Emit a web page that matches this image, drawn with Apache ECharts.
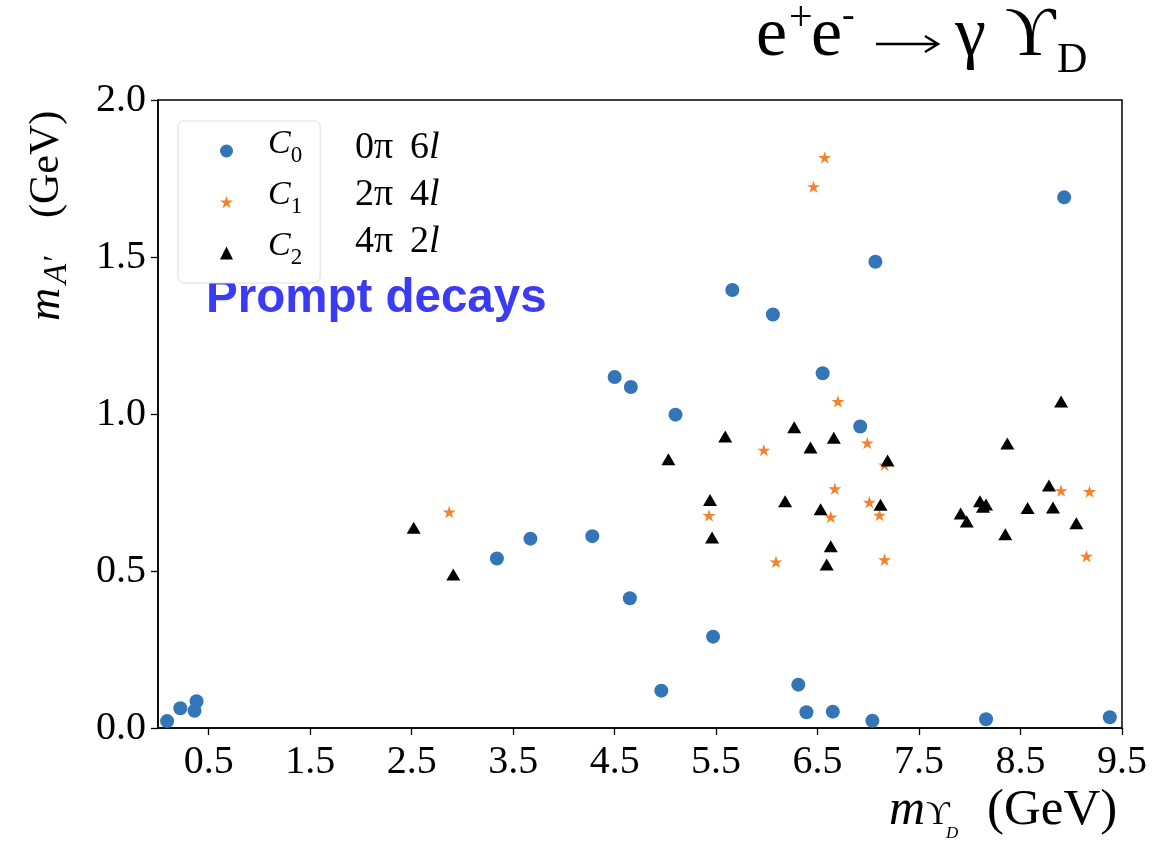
<!DOCTYPE html>
<html>
<head>
<meta charset="utf-8">
<script src="https://cdn.jsdelivr.net/npm/echarts@6/dist/echarts.min.js"></script>
<style>
  html, body { margin: 0; padding: 0; background: #fff; }
  #chart { width: 1163px; height: 841px; }
</style>
</head>
<body>
<div id="chart"></div>
<script>
// [m_Upsilon_D, m_A'] in GeV
var c0Points = [
  [0.09, 0.022], [0.22, 0.063], [0.36, 0.055], [0.38, 0.085],
  [3.34, 0.540], [3.67, 0.603], [4.28, 0.611], [4.65, 0.413],
  [4.96, 0.119], [5.47, 0.291], [5.66, 1.395], [6.06, 1.317],
  [4.50, 1.118], [4.66, 1.086], [5.10, 0.998], [8.93, 1.690],
  [7.07, 1.485], [6.55, 1.130], [6.92, 0.960], [6.31, 0.138],
  [6.39, 0.050], [6.65, 0.052], [7.04, 0.023], [8.16, 0.028],
  [9.38, 0.034]
];
var c1Points = [
  [2.87, 0.688], [5.43, 0.677], [5.97, 0.885], [6.09, 0.529],
  [6.46, 1.724], [6.57, 1.817], [6.63, 0.672], [6.67, 0.762],
  [6.70, 1.040], [6.99, 0.908], [7.01, 0.719], [7.11, 0.678],
  [7.16, 0.838], [7.16, 0.536], [8.90, 0.756], [9.15, 0.547],
  [9.18, 0.753]
];
var c2Points = [
  [2.52, 0.638], [2.91, 0.489], [5.03, 0.856], [5.44, 0.726],
  [5.46, 0.607], [5.59, 0.928], [6.18, 0.722], [6.27, 0.958],
  [6.43, 0.893], [6.53, 0.697], [6.59, 0.521], [6.63, 0.579],
  [6.66, 0.924], [7.12, 0.711], [7.19, 0.852], [7.91, 0.683],
  [7.97, 0.658], [8.10, 0.722], [8.13, 0.705], [8.16, 0.712],
  [8.35, 0.617], [8.37, 0.906], [8.57, 0.701], [8.78, 0.772],
  [8.82, 0.702], [8.90, 1.040], [9.05, 0.652]
];
var seriesNames = ['C0', 'C1', 'C2'];
var xTicks = [0.5, 1.5, 2.5, 3.5, 4.5, 5.5, 6.5, 7.5, 8.5, 9.5];
var decayLabels = [['0π', '6'], ['2π', '4'], ['4π', '2']];

var serif = 'Liberation Serif, DejaVu Serif, serif';
var blue = '#3375b6';
var orange = '#f5822b';

// five pointed star like matplotlib '*'
function starPath() {
  var pts = [];
  for (var k = 0; k < 10; k++) {
    var a = (-90 + 36 * k) * Math.PI / 180;
    var r = k % 2 === 0 ? 50 : 19;
    pts.push((50 + r * Math.cos(a)).toFixed(2) + ' ' + (50 + r * Math.sin(a)).toFixed(2));
  }
  return 'path://M' + pts.join(' L') + ' Z';
}

function txt(x, y, text, size, opts) {
  opts = opts || {};
  return {
    type: 'text', x: x, y: y, silent: true,
    style: {
      text: text,
      fontSize: size,
      fontFamily: opts.family || serif,
      fontStyle: opts.italic ? 'italic' : 'normal',
      fontWeight: opts.bold ? 'bold' : 'normal',
      fill: opts.color || '#000',
      textAlign: opts.align || 'left',
      textVerticalAlign: 'middle',
      align: opts.align || 'left',
      verticalAlign: 'middle'
    }
  };
}

var chart = echarts.init(document.getElementById('chart'));

var graphics = [
  // title  e+e- -> gamma Upsilon_D
  txt(756, 37, 'e', 70),
  txt(789, 19, '+', 42),
  txt(811, 37, 'e', 70),
  txt(842, 17, '-', 38),
  { type: 'line', silent: true, shape: { x1: 876, y1: 44, x2: 936, y2: 44 }, style: { stroke: '#000', lineWidth: 2.5 } },
  { type: 'polyline', silent: true, shape: { points: [[925, 36], [938, 44], [925, 52]] }, style: { stroke: '#000', lineWidth: 2.5, fill: null } },
  txt(955, 37, 'γ', 70),
  txt(1005, 37, 'ϒ', 70),
  txt(1057, 61, 'D', 42),
  // "Prompt decays"
  txt(206, 299, 'Prompt decays', 47.5, { family: 'Liberation Sans, Arial, sans-serif', bold: true, color: '#3b3bf6' }),
  // x axis name
  txt(889, 811, 'm', 50, { italic: true }),
  txt(926, 815, 'ϒ', 33),
  txt(946, 834, 'D', 17, { italic: true }),
  txt(987, 811, '(GeV)', 51),
  // y axis name (rotated)
  {
    type: 'group', x: 47, y: 321, rotation: Math.PI / 2, silent: true,
    children: [
      txt(0, 0, 'm', 46, { italic: true }),
      txt(37, 10, 'A′', 33, { italic: true }),
      txt(103, 0, '(GeV)', 42)
    ]
  }
];
decayLabels.forEach(function (d, i) {
  var y = 148 + i * 47;
  graphics.push(txt(355, y, d[0], 38));
  graphics.push(txt(410, y, d[1], 38));
  graphics.push(txt(429, y, 'l', 38, { italic: true }));
});

chart.setOption({
  animation: false,
  backgroundColor: '#fff',
  grid: {
    left: 158, right: 41, top: 100, bottom: 113,
    show: true, borderColor: '#000', borderWidth: 1.5, backgroundColor: 'transparent'
  },
  legend: {
    data: seriesNames,
    orient: 'vertical',
    left: 178, top: 121,
    padding: [6, 18, 6, 42],
    itemGap: 3,
    itemWidth: 13,
    itemHeight: 13,
    borderColor: '#dcdcdc', borderWidth: 1, borderRadius: 6,
    backgroundColor: '#fff',
    formatter: function (name) { return '{c|C}{s|' + name.slice(1) + '}'; },
    textStyle: {
      rich: {
        c: { fontFamily: serif, fontStyle: 'italic', fontSize: 34, lineHeight: 34, padding: [0, 0, 14, 30], color: '#000' },
        s: { fontFamily: serif, fontSize: 23, lineHeight: 23, padding: [0, 0, 1, 0], verticalAlign: 'bottom', color: '#000' }
      }
    }
  },
  xAxis: {
    type: 'value', min: 0, max: 9.5,
    axisLine: { onZero: false, lineStyle: { color: '#000', width: 1.5 } },
    axisTick: { show: true, length: 7, lineStyle: { color: '#000', width: 1.3 }, customValues: xTicks },
    axisLabel: {
      customValues: xTicks, margin: 14,
      fontFamily: serif, fontSize: 40, color: '#000',
      formatter: function (v) { return v.toFixed(1); }
    },
    splitLine: { show: false }
  },
  yAxis: {
    type: 'value', min: 0, max: 2, interval: 0.5,
    axisLine: { show: true, onZero: false, lineStyle: { color: '#000', width: 1.5 } },
    axisTick: { show: true, length: 7, lineStyle: { color: '#000', width: 1.3 } },
    axisLabel: {
      margin: 12, fontFamily: serif, fontSize: 40, color: '#000',
      formatter: function (v) { return v.toFixed(1); }
    },
    splitLine: { show: false }
  },
  series: [
    { name: 'C0', type: 'scatter', data: c0Points, symbol: 'circle', symbolSize: 14, itemStyle: { color: blue, opacity: 1 } },
    { name: 'C1', type: 'scatter', data: c1Points, symbol: starPath(), symbolSize: 13, symbolKeepAspect: true, itemStyle: { color: orange, opacity: 1 } },
    { name: 'C2', type: 'scatter', data: c2Points, symbol: 'triangle', symbolSize: [14, 12], itemStyle: { color: '#000', opacity: 1 } }
  ],
  graphic: graphics
});
</script>
</body>
</html>
